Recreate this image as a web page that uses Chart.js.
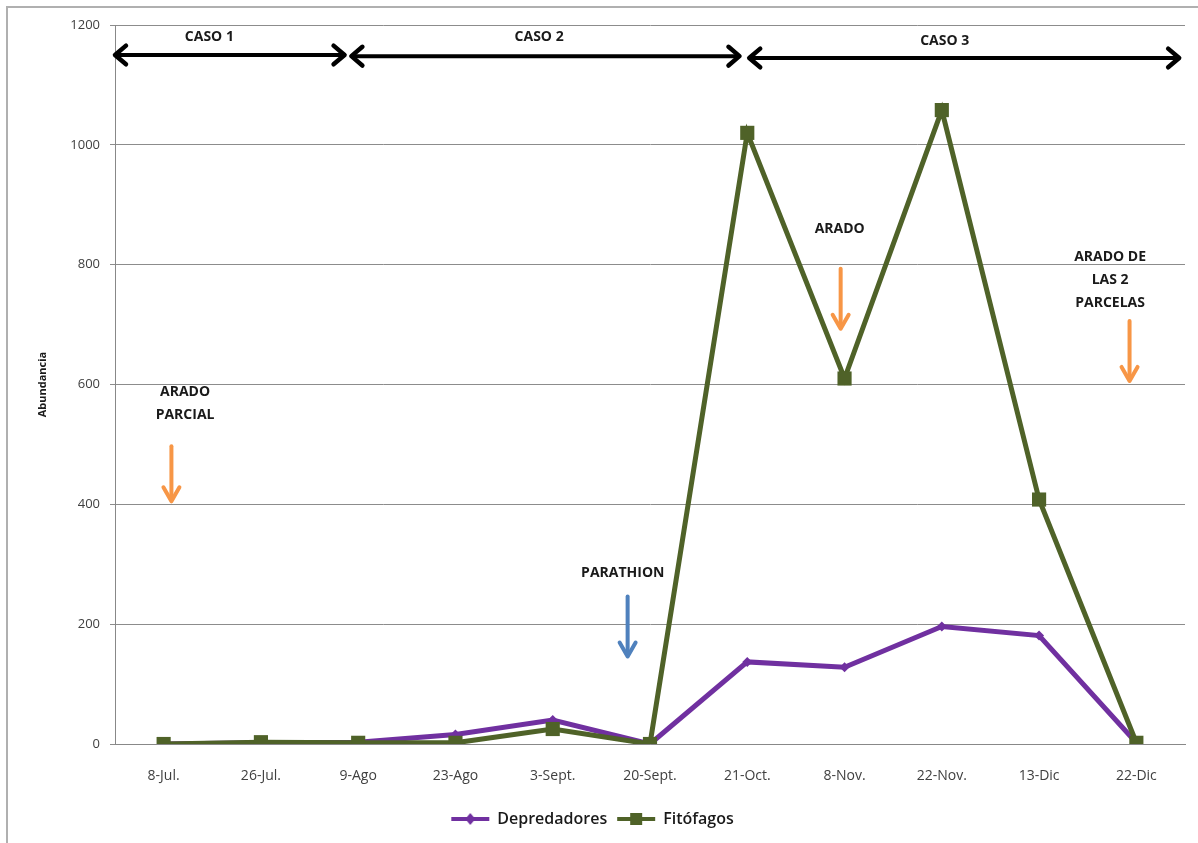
<!DOCTYPE html>
<html>
<head>
<meta charset="utf-8">
<script src="https://cdn.jsdelivr.net/npm/chart.js@4.4.1/dist/chart.umd.min.js"></script>
<style>
  html, body { margin: 0; padding: 0; background: #fff; }
  #wrap { width: 1198px; height: 843px; position: relative; }
</style>
</head>
<body>
<div id="wrap"><canvas id="chart"></canvas></div>
<script>
// Data
const fechas = ['8-Jul.', '26-Jul.', '9-Ago', '23-Ago', '3-Sept.', '20-Sept.', '21-Oct.', '8-Nov.', '22-Nov.', '13-Dic', '22-Dic'];
const depredadores = [0, 2, 3, 16, 40, 0, 137, 128, 196, 181, 2];
const fitofagos = [0, 3, 2, 2, 25, 0, 1020, 610, 1058, 408, 2];
const yTicks = [0, 200, 400, 600, 800, 1000, 1200];

// Periods (category index span, y value)
const casos = [
  { label: 'CASO 1', from: -0.5, to: 1.86, y: 1150, labelAt: 0.47, labelY: 1180 },
  { label: 'CASO 2', from: 1.93, to: 5.92, y: 1148, labelAt: 3.86, labelY: 1180 },
  { label: 'CASO 3', from: 6.02, to: 10.44, y: 1145, labelAt: 8.03, labelY: 1173 }
];

// Events: text lines and a down arrow
const eventos = [
  { lines: ['ARADO', 'PARCIAL'], at: 0.22, y: 588, arrowAt: 0.08, arrowFrom: 497, arrowTo: 405, color: '#F79646' },
  { lines: ['PARATHION'], at: 4.72, y: 286, arrowAt: 4.77, arrowFrom: 246, arrowTo: 146, color: '#4F81BD' },
  { lines: ['ARADO'], at: 6.95, y: 860, arrowAt: 6.96, arrowFrom: 793, arrowTo: 693, color: '#F79646' },
  { lines: ['ARADO DE', 'LAS 2', 'PARCELAS'], at: 9.73, y: 813, arrowAt: 9.93, arrowFrom: 706, arrowTo: 606, color: '#F79646' }
];

const PURPLE = '#7030A0';
const GREEN = '#4F6228';
const FONT = "'Open Sans', 'Noto Sans', sans-serif";

// x position for a (fractional) category index
function xAt(scale, idx) {
  const p0 = scale.getPixelForValue(0);
  const p1 = scale.getPixelForValue(1);
  return p0 + (p1 - p0) * idx;
}

function arrowHead(ctx, x, y, dir, size) {
  // dir: 1 = pointing right, -1 = left
  ctx.beginPath();
  ctx.moveTo(x - dir * size, y - size * 0.85);
  ctx.lineTo(x, y);
  ctx.lineTo(x - dir * size, y + size * 0.85);
  ctx.stroke();
}

const annotations = {
  id: 'annotations',
  beforeDraw(chart) {
    const ctx = chart.ctx;
    ctx.save();
    ctx.fillStyle = '#fff';
    ctx.fillRect(0, 0, chart.width, chart.height);
    ctx.strokeStyle = '#b0b0b0';
    ctx.lineWidth = 2;
    ctx.beginPath();
    ctx.moveTo(7, chart.height);
    ctx.lineTo(7, 7);
    ctx.lineTo(chart.width, 7);
    ctx.stroke();
    ctx.restore();
  },
  afterDatasetsDraw(chart) {
    const ctx = chart.ctx;
    const xs = chart.scales.x;
    const ys = chart.scales.y;
    ctx.save();

    // period arrows
    ctx.strokeStyle = '#000';
    ctx.fillStyle = '#1a1a1a';
    ctx.lineCap = 'round';
    ctx.lineJoin = 'round';
    casos.forEach(c => {
      const x1 = Math.max(xAt(xs, c.from), chart.chartArea.left - 2);
      const x2 = xAt(xs, c.to);
      const y = ys.getPixelForValue(c.y);
      ctx.lineWidth = 4;
      ctx.beginPath();
      ctx.moveTo(x1 + 2, y);
      ctx.lineTo(x2 - 2, y);
      ctx.stroke();
      ctx.lineWidth = 4.5;
      arrowHead(ctx, x1, y, -1, 11);
      arrowHead(ctx, x2, y, 1, 11);
      ctx.font = `bold 14px ${FONT}`;
      ctx.textAlign = 'center';
      ctx.textBaseline = 'middle';
      ctx.fillText(c.label, xAt(xs, c.labelAt), ys.getPixelForValue(c.labelY));
    });

    // event labels and arrows
    eventos.forEach(e => {
      ctx.fillStyle = '#1a1a1a';
      ctx.font = `bold 14px ${FONT}`;
      ctx.textAlign = 'center';
      ctx.textBaseline = 'middle';
      const cx = xAt(xs, e.at);
      let ty = ys.getPixelForValue(e.y);
      e.lines.forEach(line => {
        ctx.fillText(line, cx, ty);
        ty += 23;
      });
      const ax = xAt(xs, e.arrowAt);
      const a1 = ys.getPixelForValue(e.arrowFrom);
      const a2 = ys.getPixelForValue(e.arrowTo);
      ctx.strokeStyle = e.color;
      ctx.lineWidth = 4;
      ctx.lineCap = 'round';
      ctx.beginPath();
      ctx.moveTo(ax, a1);
      ctx.lineTo(ax, a2 - 3);
      ctx.stroke();
      ctx.beginPath();
      ctx.moveTo(ax - 8, a2 - 14);
      ctx.lineTo(ax, a2);
      ctx.lineTo(ax + 8, a2 - 14);
      ctx.stroke();
    });
    ctx.restore();
  }
};

// legend marker: short line with the series marker on it
function legendIcon(color, style) {
  const c = document.createElement('canvas');
  c.width = 40; c.height = 14;
  const g = c.getContext('2d');
  g.strokeStyle = color;
  g.fillStyle = color;
  g.lineWidth = 4;
  g.beginPath();
  g.moveTo(1, 7);
  g.lineTo(39, 7);
  g.stroke();
  if (style === 'rect') {
    g.fillRect(14, 1, 12, 12);
  } else {
    g.beginPath();
    g.moveTo(20, 1); g.lineTo(25, 7); g.lineTo(20, 13); g.lineTo(15, 7);
    g.closePath();
    g.fill();
  }
  return c;
}

const ctx = document.getElementById('chart').getContext('2d');
new Chart(ctx, {
  type: 'line',
  data: {
    labels: fechas,
    datasets: [
      {
        label: 'Depredadores',
        data: depredadores,
        borderColor: PURPLE,
        backgroundColor: PURPLE,
        borderWidth: 5,
        pointStyle: 'rectRot',
        pointRadius: 5,
        pointBorderWidth: 0,
        tension: 0,
        order: 2
      },
      {
        label: 'Fitófagos',
        data: fitofagos,
        borderColor: GREEN,
        backgroundColor: GREEN,
        borderWidth: 5,
        pointStyle: 'rect',
        pointRadius: 10,
        pointBorderWidth: 0,
        tension: 0,
        order: 1
      }
    ]
  },
  options: {
    responsive: true,
    maintainAspectRatio: false,
    animation: false,
    layout: {
      padding: { top: 25, right: 13, left: 0, bottom: 6 }
    },
    plugins: {
      tooltip: { enabled: false },
      legend: {
        position: 'bottom',
        labels: {
          usePointStyle: true,
          pointStyleWidth: 38,
          sort: (a, b) => a.datasetIndex - b.datasetIndex,
          generateLabels: chart => chart.data.datasets.map((ds, i) => ({
            text: ds.label,
            datasetIndex: i,
            pointStyle: legendIcon(ds.borderColor, ds.pointStyle),
            fillStyle: ds.borderColor,
            strokeStyle: ds.borderColor,
            lineWidth: 0,
            fontColor: '#1a1a1a'
          })),
          font: { family: FONT, size: 16, weight: '600' },
          color: '#1a1a1a',
          padding: 10
        }
      }
    },
    scales: {
      x: {
        offset: true,
        grid: { display: false },
        border: { display: true, color: '#888', width: 1 },
        ticks: {
          color: '#404040',
          font: { family: FONT, size: 14 },
          padding: 16,
          maxRotation: 0,
          autoSkip: false
        },
        afterFit: scale => { scale.height = 57; }
      },
      y: {
        min: 0,
        max: 1200,
        afterBuildTicks: scale => { scale.ticks = yTicks.map(v => ({ value: v })); },
        grid: {
          color: '#8c8c8c',
          lineWidth: 1,
          drawTicks: true,
          tickLength: 5
        },
        border: { display: true, color: '#888', width: 1 },
        ticks: {
          color: '#404040',
          font: { family: FONT, size: 13 },
          padding: 10,
          callback: v => String(v)
        },
        title: {
          display: true,
          text: 'Abundancia',
          color: '#1a1a1a',
          font: { family: FONT, size: 11, weight: 'bold' },
          padding: { top: 36, bottom: 0 }
        },
        afterFit: scale => { scale.width = 115; }
      }
    }
  },
  plugins: [annotations]
});
</script>
</body>
</html>
